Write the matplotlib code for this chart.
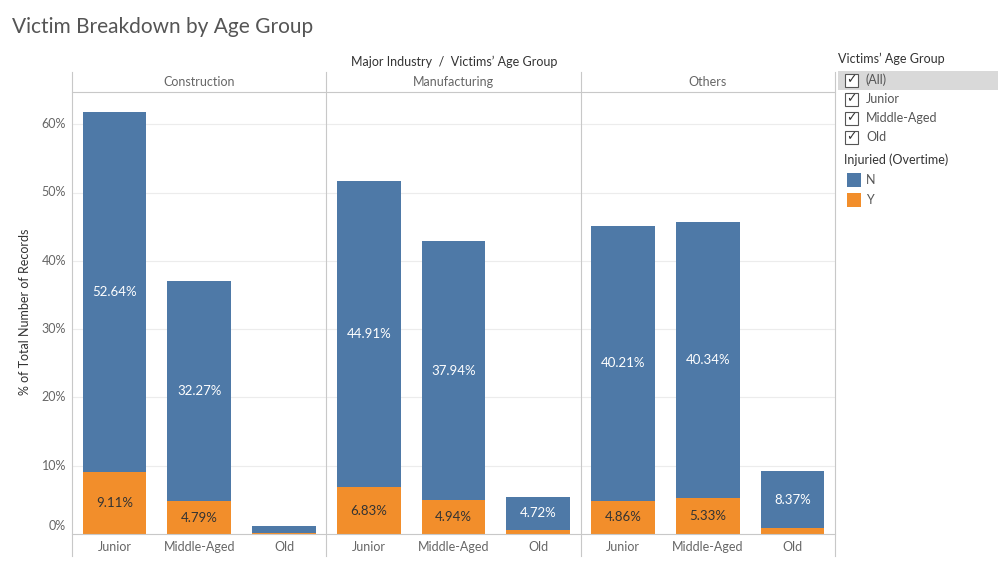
import numpy as np
import matplotlib
matplotlib.use('Agg')
from matplotlib import pyplot as plt
from matplotlib.patches import Rectangle
from matplotlib.lines import Line2D

industries = ['Construction', 'Manufacturing', 'Others']
age_groups = ['Junior', 'Middle-Aged', 'Old']
# % of total records, per industry, per age group
pct_N = [[52.64, 32.27, 0.95],
         [44.91, 37.94, 4.72],
         [40.21, 40.34, 8.37]]
pct_Y = [[9.11, 4.79, 0.20],
         [6.83, 4.94, 0.65],
         [4.86, 5.33, 0.85]]
y_ticks = [0, 10, 20, 30, 40, 50, 60]
legend_ages = ['(All)', 'Junior', 'Middle-Aged', 'Old']
legend_inj = ['N', 'Y']

BLUE = '#4E79A7'
ORANGE = '#F28E2B'
GRID = '#ECECEC'
LINE = '#C8C8C8'
TXT = '#666666'

plt.rcParams['font.family'] = ['Lato', 'DejaVu Sans']

W, H = 998, 582
fig = plt.figure(figsize=(W / 100, H / 100), dpi=100)

def fx(px):
    return px / W

def fy(py):
    return 1 - py / H

left, right, top, base = 72, 835, 92, 534
px_per_pct = 6.83
ymax = (base - top) / px_per_pct
panel_w = (right - left) / 3

for p, ind in enumerate(industries):
    ax = fig.add_axes([fx(left + p * panel_w), fy(base), panel_w / W, (base - top) / H])
    ax.set_xlim(-0.5, 2.5)
    ax.set_ylim(0, ymax)
    for t in y_ticks[1:]:
        ax.axhline(t, color=GRID, lw=0.8, zorder=0)
    x = np.arange(3)
    ax.bar(x, pct_Y[p], width=0.75, color=ORANGE, zorder=2)
    ax.bar(x, pct_N[p], width=0.75, bottom=pct_Y[p], color=BLUE, zorder=2)
    for i in range(3):
        ny = pct_Y[p][i] + pct_N[p][i] / 2
        if pct_N[p][i] > 3:
            ax.text(x[i], ny, '%.2f%%' % pct_N[p][i], ha='center', va='center',
                    color='white', fontsize=9.5)
        if pct_Y[p][i] > 3:
            ax.text(x[i], pct_Y[p][i] / 2, '%.2f%%' % pct_Y[p][i], ha='center',
                    va='center', color='#333333', fontsize=9.5)
    ax.set_xticks([])
    ax.set_yticks([])
    for s in ax.spines.values():
        s.set_visible(False)
    ax.patch.set_alpha(0)
    # industry header
    fig.text(fx(left + (p + 0.5) * panel_w), fy(82), ind, ha='center', va='center',
             color=TXT, fontsize=9)
    for i, g in enumerate(age_groups):
        fig.text(fx(left + p * panel_w + (i + 0.5) * panel_w / 3), fy(547), g,
                 ha='center', va='center', color=TXT, fontsize=9)

# y-axis tick labels
for t in y_ticks:
    yy = base - t * px_per_pct
    if t == 0:
        yy = base - 8
    fig.text(fx(66), fy(yy), '%d%%' % t, ha='right', va='center', color=TXT, fontsize=9)

# frame lines
for xx in [left + k * panel_w for k in range(4)]:
    fig.add_artist(Line2D([fx(xx), fx(xx)], [fy(72), fy(556)], color=LINE, lw=0.8))
fig.add_artist(Line2D([fx(left), fx(right)], [fy(top), fy(top)], color=LINE, lw=0.8))
fig.add_artist(Line2D([fx(left), fx(right)], [fy(base), fy(base)], color=LINE, lw=0.8))

fig.text(fx(454), fy(62), 'Major Industry  /  Victims\u2019 Age Group', ha='center',
         va='center', color='#333333', fontsize=9)
fig.text(fx(25), fy(312), '% of Total Number of Records', rotation=90, ha='center',
         va='center', color='#333333', fontsize=9)
fig.text(fx(12), fy(27), 'Victim Breakdown by Age Group', ha='left', va='center',
         color='#555555', fontsize=15)

# legend area
fig.text(fx(838), fy(59), 'Victims\u2019 Age Group', ha='left', va='center',
         color='#333333', fontsize=9)
fig.add_artist(Rectangle((fx(838), fy(90)), fx(998 - 838), 19 / H, color='#D9D9D9',
                         lw=0, transform=fig.transFigure))
for k, name in enumerate(legend_ages):
    yc = 80 + k * 19
    fig.add_artist(Rectangle((fx(845), fy(yc + 7)), 13 / W, 13 / H, fc='white',
                             ec='#555555', lw=0.8, transform=fig.transFigure))
    fig.text(fx(851.5), fy(yc), '\u2713', ha='center', va='center', color='#333333',
             fontsize=9, family=['DejaVu Sans'])
    fig.text(fx(866), fy(yc), name, ha='left', va='center', color='#555555', fontsize=9)

fig.text(fx(844), fy(160), 'Injuried (Overtime)', ha='left', va='center',
         color='#333333', fontsize=9)
for k, (name, col) in enumerate(zip(legend_inj, [BLUE, ORANGE])):
    yc = 180 + k * 20
    fig.add_artist(Rectangle((fx(847), fy(yc + 7)), 14 / W, 14 / H, color=col, lw=0,
                             transform=fig.transFigure))
    fig.text(fx(866), fy(yc), name, ha='left', va='center', color='#555555', fontsize=9)

fig.savefig('out.png', dpi=100)
